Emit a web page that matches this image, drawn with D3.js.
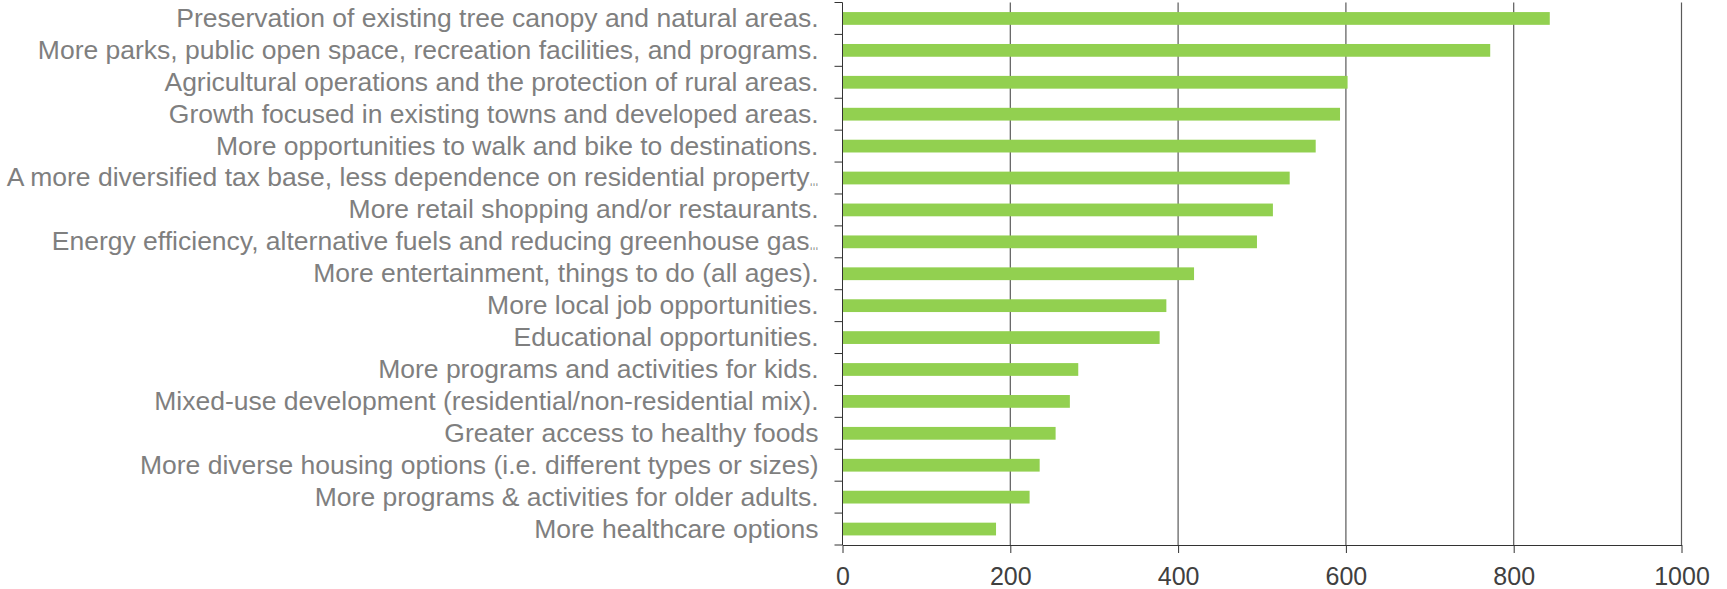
<!DOCTYPE html>
<html lang="en">
<head>
  <meta charset="UTF-8">
  <title>Priorities</title>
  <script src="https://d3js.org/d3.v7.min.js"></script>
  <style>
    body { margin: 0; background: #fff; }
    svg { font-family: "Liberation Sans", Arial, sans-serif; }
  </style>
</head>
<body>
<script>
  // categories, top to bottom
  const categories = [
    "Preservation of existing tree canopy and natural areas.",
    "More parks, public open space, recreation facilities, and programs.",
    "Agricultural operations and the protection of rural areas.",
    "Growth focused in existing towns and developed areas.",
    "More opportunities to walk and bike to destinations.",
    "A more diversified tax base, less dependence on residential property\u2026",
    "More retail shopping and/or restaurants.",
    "Energy efficiency, alternative fuels and reducing greenhouse gas\u2026",
    "More entertainment, things to do (all ages).",
    "More local job opportunities.",
    "Educational opportunities.",
    "More programs and activities for kids.",
    "Mixed-use development (residential/non-residential mix).",
    "Greater access to healthy foods",
    "More diverse housing options (i.e. different types or sizes)",
    "More programs & activities for older adults.",
    "More healthcare options"
  ];
  const values = [843, 772, 602, 593, 564, 533, 513, 494, 419, 386, 378, 281, 271, 254, 235, 223, 183];
  const xTicks = [0, 200, 400, 600, 800, 1000];

  const width = 1727, height = 589;
  const margin = {top: 2.5, right: 45.5, bottom: 44, left: 842.5};

  const svg = d3.select("body").append("svg")
      .attr("width", width)
      .attr("height", height);

  const x = d3.scaleLinear()
      .domain([0, 1000])
      .range([margin.left, width - margin.right]);

  const y = d3.scaleBand()
      .domain(categories)
      .range([margin.top, height - margin.bottom])
      .paddingInner(0.6)
      .paddingOuter(0.3);

  const bottom = height - margin.bottom;

  // vertical grid lines
  svg.append("g")
      .selectAll("line")
      .data(xTicks.slice(1))
      .join("line")
      .attr("x1", d => x(d)).attr("x2", d => x(d))
      .attr("y1", margin.top).attr("y2", bottom)
      .attr("stroke", "#5a5a5a")
      .attr("stroke-width", 1.2);

  // bars
  svg.append("g")
      .selectAll("rect")
      .data(values)
      .join("rect")
      .attr("x", x(0))
      .attr("y", (d, i) => y(categories[i]))
      .attr("width", d => x(d) - x(0))
      .attr("height", y.bandwidth())
      .attr("fill", "#92d050");

  // bottom axis
  const xAxis = svg.append("g")
      .attr("transform", `translate(0,${bottom})`)
      .call(d3.axisBottom(x).tickValues(xTicks).tickFormat(d3.format("d"))
        .tickSize(8).tickPadding(14).tickSizeOuter(0));
  xAxis.select(".domain").attr("stroke", "#333");
  xAxis.selectAll(".tick line").attr("stroke", "#333");
  xAxis.selectAll("text")
      .attr("font-size", 25)
      .attr("font-family", "Liberation Sans, Arial, sans-serif")
      .attr("fill", "#404040");

  // left axis: labels centred on bands, ticks on band boundaries
  const yAxis = svg.append("g")
      .attr("transform", `translate(${x(0)},0)`)
      .call(d3.axisLeft(y).tickSize(0).tickPadding(24));
  yAxis.select(".domain").remove();
  yAxis.selectAll("text")
      .attr("font-size", 26.5)
      .attr("font-family", "Liberation Sans, Arial, sans-serif")
      .attr("fill", "#7f7f7f");

  // truncated labels: squeeze the ellipsis like the original
  yAxis.selectAll("text")
      .filter(d => d.endsWith("\u2026"))
      .each(function(d) {
        const t = d3.select(this);
        t.text(d.slice(0, -1));
        t.append("tspan")
            .attr("textLength", 9)
            .attr("lengthAdjust", "spacingAndGlyphs")
            .text("\u2026");
      });

  const boundaries = categories.map(c => y(c) - y.step() * y.paddingInner() / 2);
  boundaries.push(bottom);
  svg.append("g")
      .selectAll("line")
      .data(boundaries)
      .join("line")
      .attr("x1", x(0) - 8).attr("x2", x(0))
      .attr("y1", d => d).attr("y2", d => d)
      .attr("stroke", "#333");

  svg.append("line")
      .attr("x1", x(0)).attr("x2", x(0))
      .attr("y1", margin.top).attr("y2", bottom)
      .attr("stroke", "#333");
</script>
</body>
</html>
